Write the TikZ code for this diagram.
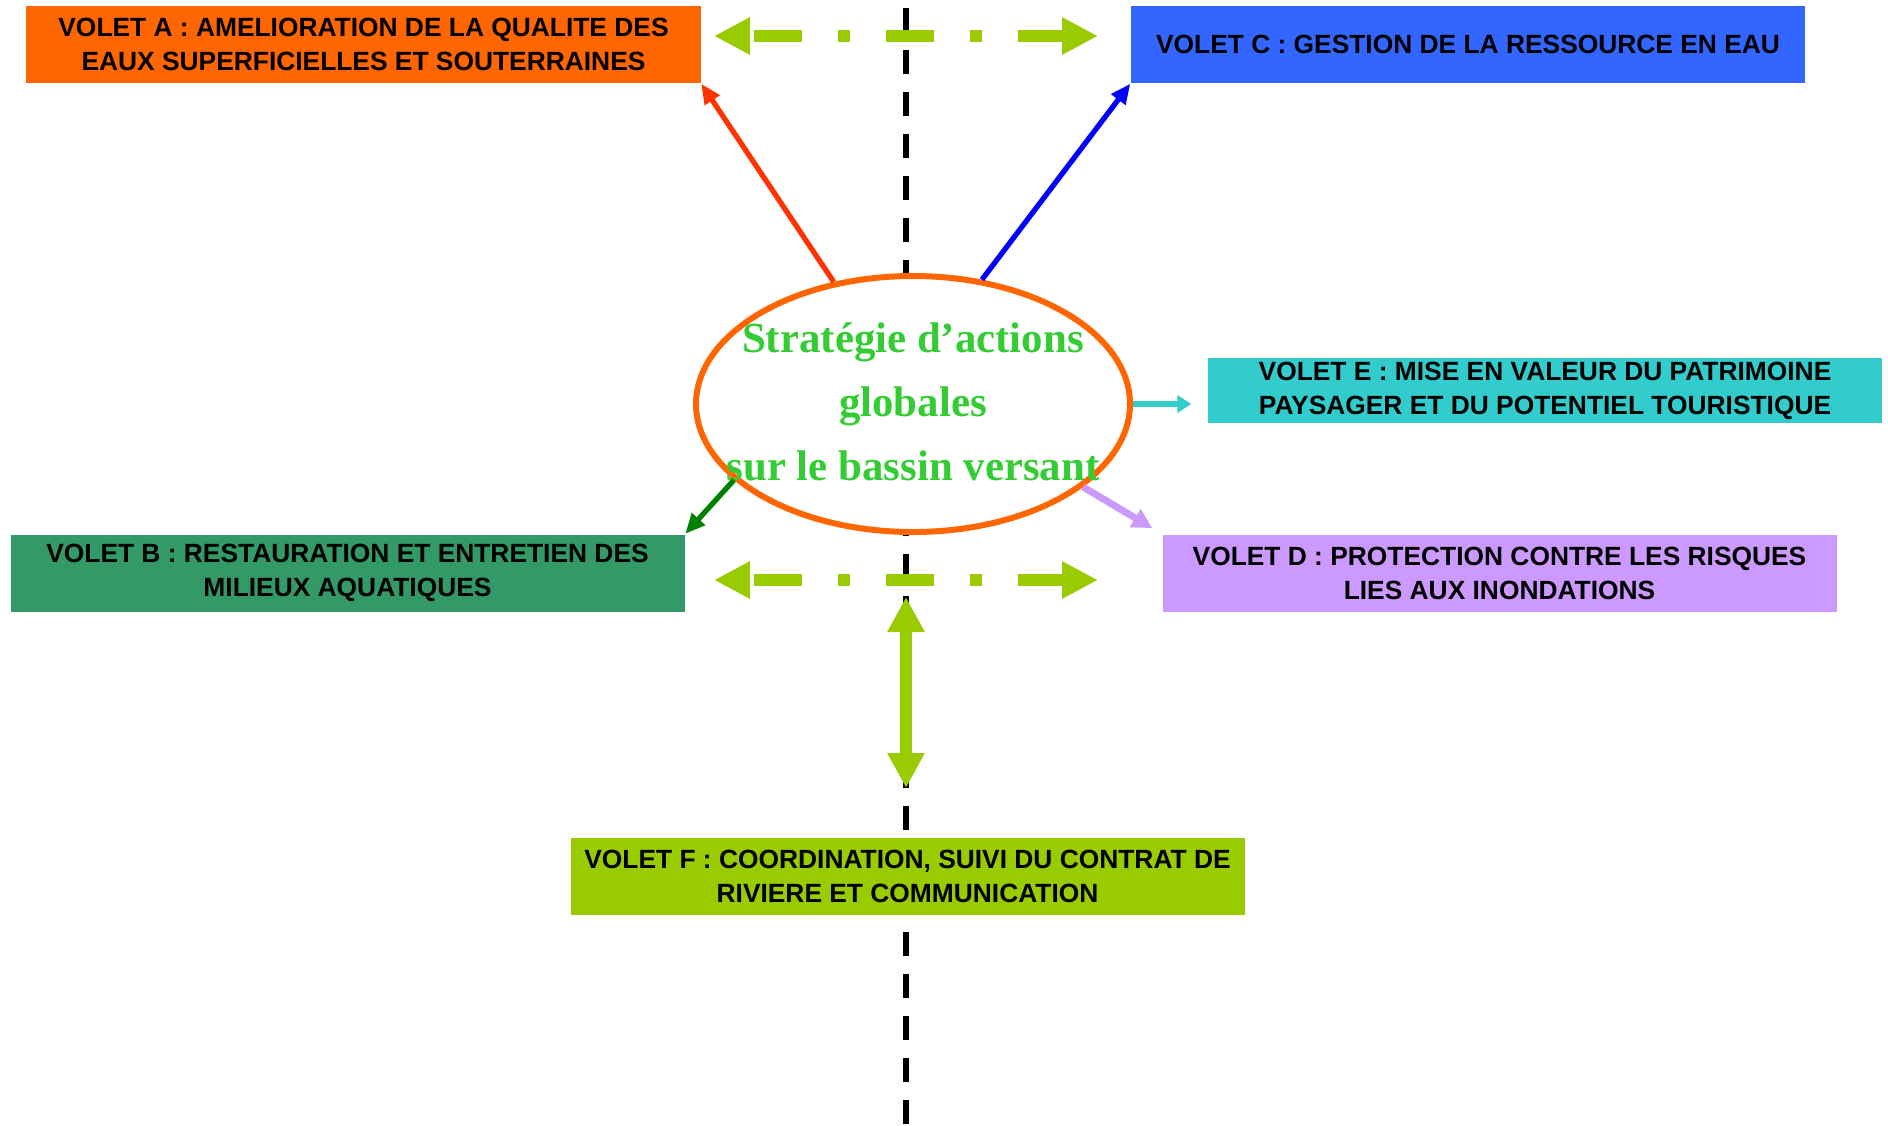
\documentclass[tikz,border=0pt]{standalone}
\usepackage{fontspec}
\setmainfont{Liberation Sans}
\newfontfamily\seriffont{Liberation Serif}
\usepackage{tikz}
\usetikzlibrary{shapes.geometric, arrows.meta, positioning, calc}
\definecolor{ctOrange}{HTML}{FF6600}
\definecolor{ctBleu}{HTML}{3366FF}
\definecolor{ctCyan}{HTML}{33CCCC}
\definecolor{ctVertMer}{HTML}{339966}
\definecolor{ctLavande}{HTML}{CC99FF}
\definecolor{ctAnis}{HTML}{99CC00}
\definecolor{ctVertTxt}{HTML}{33CC33}
\definecolor{ctRouge}{HTML}{FF3300}
\definecolor{ctBleuF}{HTML}{0000FF}
\definecolor{ctVertF}{HTML}{008000}

\tikzset{
  volet/.style={rectangle, inner sep=0pt, minimum width=6.74cm, minimum height=0.77cm,
    align=center, font=\fontsize{7.5}{9.7}\selectfont\bfseries, text=black},
  lien/.style={ctAnis, line width=3.4pt, dash pattern=on 0.48cm off 0.36cm on 0.12cm off 0.36cm,
    dash phase=1.26cm, {Triangle[length=0.36cm,width=0.35cm]}-{Triangle[length=0.36cm,width=0.35cm]}},
  fleche/.style={line width=1.5pt, -{Triangle[length=0.2cm,width=0.17cm]}}
}

\begin{document}
\begin{tikzpicture}
  \useasboundingbox (0,0) rectangle (18.88,-11.25);
  % axe central
  \draw[black, line width=1.7pt, dash pattern=on 0.24cm off 0.18cm] (9.06,-0.08) -- (9.06,-11.4);
  % volets
  \node[volet, fill=ctOrange] (voletA) at (3.635,-0.445) {VOLET A : AMELIORATION DE LA QUALITE DES\\EAUX SUPERFICIELLES ET SOUTERRAINES};
  \node[volet, fill=ctBleu] (voletC) at (14.68,-0.445) {VOLET C : GESTION DE LA RESSOURCE EN EAU};
  \node[volet, fill=ctCyan, minimum height=0.65cm] (voletE) at (15.45,-3.905) {VOLET E : MISE EN VALEUR DU PATRIMOINE\\PAYSAGER ET DU POTENTIEL TOURISTIQUE};
  \node[volet, fill=ctVertMer] (voletB) at (3.475,-5.73) {VOLET B : RESTAURATION ET ENTRETIEN DES\\MILIEUX AQUATIQUES};
  \node[volet, fill=ctLavande] (voletD) at (14.995,-5.73) {VOLET D : PROTECTION CONTRE LES RISQUES\\LIES AUX INONDATIONS};
  \node[volet, fill=ctAnis] (voletF) at (9.075,-8.765) {VOLET F : COORDINATION, SUIVI DU CONTRAT DE\\RIVIERE ET COMMUNICATION};
  % strategie
  \node[ellipse, draw=ctOrange, line width=1.7pt, fill=white, minimum width=4.34cm,
        minimum height=2.56cm, inner sep=0pt] (strat) at (9.13,-4.04) {};
  \node[align=center, text=ctVertTxt, font=\seriffont\fontsize{12.2}{18.2}\selectfont\bfseries] (strattxt)
        at (9.13,-4.02) {Stratégie d’actions\\globales\\sur le bassin versant};
  % fleches vers les volets
  \draw[fleche, ctRouge] (strat.123) -- (voletA.south east);
  \draw[fleche, ctBleuF] (strat.61) -- (voletC.south west);
  \draw[fleche, ctCyan, -{Triangle[length=0.14cm,width=0.17cm]}, shorten >=0.16cm] (strat.east) -- (strat.east -| voletE.west);
  \draw[fleche, ctVertF] (strat.203) -- (voletB.north east);
  \draw[fleche, ctLavande, line width=2pt, -{Triangle[length=0.2cm,width=0.2cm]}, shorten >=0.11cm] (strat.-26) -- (voletD.north west);
  % liens transversaux
  \coordinate (hautG) at (7.14,-0.36);
  \coordinate (hautD) at (10.98,-0.36);
  \coordinate (basG) at (7.14,-5.80);
  \coordinate (basD) at (10.98,-5.80);
  \draw[lien] (hautG) -- (hautD);
  \draw[lien] (basG) -- (basD);
  \coordinate (axeH) at (9.06,-5.97);
  \coordinate (axeB) at (9.06,-7.88);
  \draw[ctAnis, line width=3.4pt, {Triangle[length=0.35cm,width=0.35cm]}-{Triangle[length=0.35cm,width=0.35cm]}] (axeH) -- (axeB);
\end{tikzpicture}
\end{document}
